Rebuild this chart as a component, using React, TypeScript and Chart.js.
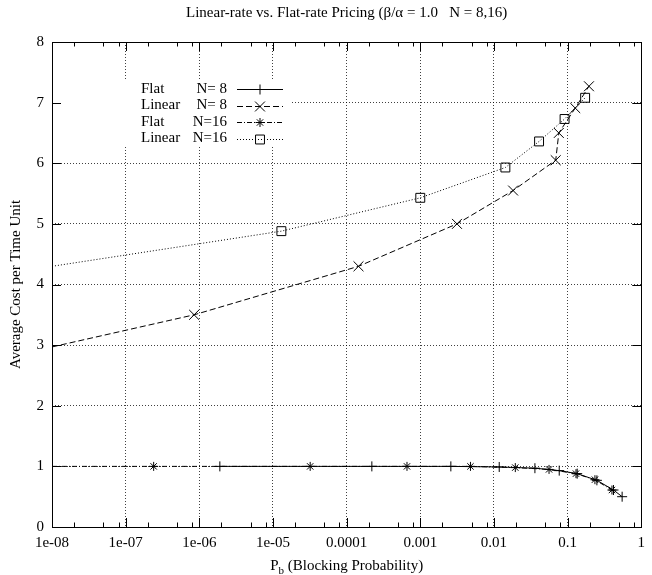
import React, { useEffect, useRef } from "react";
import { Chart, registerables } from "chart.js";
Chart.register(...registerables);

const FONT = "'Liberation Serif', 'Times New Roman', serif";

const titleText = "Linear-rate vs. Flat-rate Pricing (\u03B2/\u03B1 = 1.0   N = 8,16)";
const yTitle = "Average Cost per Time Unit";
const xTitleMain = "P";
const xTitleSub = "b";
const xTitleRest = " (Blocking Probability)";

const xTickValues = [1e-8, 1e-7, 1e-6, 1e-5, 1e-4, 1e-3, 1e-2, 1e-1, 1];
const xTickLabels = ["1e-08", "1e-07", "1e-06", "1e-05", "0.0001", "0.001", "0.01", "0.1", "1"];
const xMinorMultipliers = [2, 5, 8];
const yTickValues = [0, 1, 2, 3, 4, 5, 6, 7, 8];

// Flat N=8 (+, solid)
const flatN8Pb = [1.9e-6, 2.2e-4, 2.6e-3, 1.18e-2, 3.6e-2, 7.7e-2, 1.35e-1, 2.5e-1, 4.2e-1, 5.5e-1];
const flatN8Cost = [1.0, 1.0, 1.0, 0.99, 0.97, 0.93, 0.88, 0.77, 0.61, 0.5];

// Linear N=8 (x, dashed); first value is where the curve enters at the left edge
const linearN8Pb = [1e-8, 8.5e-7, 1.45e-4, 3.15e-3, 1.82e-2, 6.9e-2, 7.6e-2, 1.27e-1, 1.95e-1];
const linearN8Cost = [2.97, 3.5, 4.3, 5.0, 5.55, 6.05, 6.5, 6.91, 7.27];

// Flat N=16 (*, dash-dot)
const flatN16Pb = [1e-8, 2.4e-7, 3.2e-5, 6.6e-4, 4.8e-3, 1.95e-2, 5.6e-2, 1.3e-1, 2.35e-1, 4.0e-1];
const flatN16Cost = [1.0, 1.0, 1.0, 1.0, 1.0, 0.98, 0.95, 0.88, 0.78, 0.61];

// Linear N=16 (square, dotted)
const linearN16Pb = [1e-8, 1.3e-5, 1.0e-3, 1.43e-2, 4.1e-2, 9.1e-2, 1.73e-1];
const linearN16Cost = [4.3, 4.88, 5.43, 5.93, 6.36, 6.73, 7.08];

const legendWords = ["Flat", "Linear", "Flat", "Linear"];
const legendN = ["N= 8", "N= 8", "N=16", "N=16"];

const toPts = (xs: number[], ys: number[]) => xs.map((x, i) => ({ x, y: ys[i] }));

type Marker = "plus" | "cross" | "star" | "square";
const seriesStyles: { dash: number[]; marker: Marker; hideFirst: boolean }[] = [
  { dash: [], marker: "plus", hideFirst: false },
  { dash: [6, 3], marker: "cross", hideFirst: true },
  { dash: [5, 2, 1, 2], marker: "star", hideFirst: true },
  { dash: [1, 2], marker: "square", hideFirst: true },
];
const chartPointStyle: Record<Marker, string> = { plus: "cross", cross: "crossRot", star: "star", square: "rect" };
const markerRadius: Record<Marker, number> = { plus: 5, cross: 7, star: 4.5, square: 6.3 };

function drawMarker(ctx: CanvasRenderingContext2D, m: Marker, x: number, y: number) {
  const r = markerRadius[m];
  ctx.beginPath();
  if (m === "plus" || m === "star") {
    ctx.moveTo(x - r, y); ctx.lineTo(x + r, y);
    ctx.moveTo(x, y - r); ctx.lineTo(x, y + r);
  }
  if (m === "cross" || m === "star") {
    const d = r * Math.SQRT1_2;
    ctx.moveTo(x - d, y - d); ctx.lineTo(x + d, y + d);
    ctx.moveTo(x - d, y + d); ctx.lineTo(x + d, y - d);
  }
  if (m === "square") {
    const s = r * Math.SQRT1_2;
    ctx.rect(x - s, y - s, 2 * s, 2 * s);
  }
  ctx.stroke();
}

const decorPlugin = {
  id: "decor",
  afterDatasetsDraw(chart: any) {
    const ctx: CanvasRenderingContext2D = chart.ctx;
    const a = chart.chartArea;
    ctx.save();
    ctx.fillStyle = "#fff";
    ctx.fillRect(a.left + 1, 80, 291 - a.left - 1, 67);
    ctx.fillStyle = "#000";
    ctx.strokeStyle = "#000";
    ctx.lineWidth = 1;
    ctx.font = `15px ${FONT}`;
    ctx.textBaseline = "middle";
    legendWords.forEach((w, i) => {
      const y = 89 + i * 16.5;
      ctx.textAlign = "left";
      ctx.fillText(w, 141, y);
      ctx.textAlign = "right";
      ctx.fillText(legendN[i], 227, y);
      const st = seriesStyles[i];
      ctx.setLineDash(st.dash);
      ctx.beginPath();
      ctx.moveTo(237, Math.round(y) + 0.5);
      ctx.lineTo(283, Math.round(y) + 0.5);
      ctx.stroke();
      ctx.setLineDash([]);
      drawMarker(ctx, st.marker, 260, Math.round(y) + 0.5);
    });
    ctx.restore();
  },
  afterDraw(chart: any) {
    const ctx: CanvasRenderingContext2D = chart.ctx;
    const a = chart.chartArea;
    const xs = chart.scales.x;
    const ys = chart.scales.y;
    const px = (v: number) => Math.round(v) + 0.5;
    ctx.save();
    ctx.strokeStyle = "#000";
    ctx.lineWidth = 1;
    ctx.setLineDash([]);
    ctx.beginPath();
    xTickValues.forEach((v) => {
      const x = px(xs.getPixelForValue(v));
      ctx.moveTo(x, a.bottom); ctx.lineTo(x, a.bottom - 9);
      ctx.moveTo(x, a.top); ctx.lineTo(x, a.top + 9);
    });
    xTickValues.slice(0, -1).forEach((v) => {
      xMinorMultipliers.forEach((m) => {
        const x = px(xs.getPixelForValue(v * m));
        ctx.moveTo(x, a.bottom); ctx.lineTo(x, a.bottom - 4.5);
        ctx.moveTo(x, a.top); ctx.lineTo(x, a.top + 4.5);
      });
    });
    yTickValues.forEach((v) => {
      const y = px(ys.getPixelForValue(v));
      ctx.moveTo(a.left, y); ctx.lineTo(a.left + 9, y);
      ctx.moveTo(a.right, y); ctx.lineTo(a.right - 9, y);
    });
    ctx.stroke();
    ctx.strokeRect(px(a.left), px(a.top), Math.round(a.right) - Math.round(a.left), Math.round(a.bottom) - Math.round(a.top));

    ctx.fillStyle = "#000";
    ctx.font = `15px ${FONT}`;
    ctx.textAlign = "center";
    ctx.textBaseline = "alphabetic";
    const cx = (a.left + a.right) / 2;
    ctx.fillText(titleText, cx, 17);

    const subFont = `11px ${FONT}`;
    const mainFont = `15px ${FONT}`;
    ctx.font = mainFont;
    const wP = ctx.measureText(xTitleMain).width;
    const wR = ctx.measureText(xTitleRest).width;
    ctx.font = subFont;
    const wB = ctx.measureText(xTitleSub).width;
    const x0 = cx - (wP + wB + wR) / 2;
    ctx.textAlign = "left";
    ctx.font = mainFont;
    ctx.fillText(xTitleMain, x0, 570);
    ctx.font = subFont;
    ctx.fillText(xTitleSub, x0 + wP, 574);
    ctx.font = mainFont;
    ctx.fillText(xTitleRest, x0 + wP + wB, 570);

    ctx.save();
    ctx.translate(20, (a.top + a.bottom) / 2);
    ctx.rotate(-Math.PI / 2);
    ctx.textAlign = "center";
    ctx.fillText(yTitle, 0, 0);
    ctx.restore();
    ctx.restore();
  },
};

export default function App() {
  const ref = useRef<HTMLCanvasElement>(null);
  useEffect(() => {
    const canvas = ref.current!;
    const seriesData = [
      toPts(flatN8Pb, flatN8Cost),
      toPts(linearN8Pb, linearN8Cost),
      toPts(flatN16Pb, flatN16Cost),
      toPts(linearN16Pb, linearN16Cost),
    ];
    const labels = ["Flat N= 8", "Linear N= 8", "Flat N=16", "Linear N=16"];
    const gridColor = (ctx: any) => {
      const n = ctx.scale ? ctx.scale.ticks.length : 0;
      return ctx.index === 0 || ctx.index === n - 1 ? "rgba(0,0,0,0)" : "rgba(0,0,0,0.75)";
    };
    const chart = new Chart(canvas, {
      type: "line",
      data: {
        datasets: seriesData.map((d, i) => {
          const st = seriesStyles[i];
          const r = markerRadius[st.marker];
          return {
            label: labels[i],
            data: d,
            borderColor: "#000",
            borderWidth: 1,
            borderDash: st.dash,
            fill: false,
            tension: 0,
            pointStyle: chartPointStyle[st.marker] as any,
            pointRadius: (c: any) => (st.hideFirst && c.dataIndex === 0 ? 0 : r),
            pointHoverRadius: (c: any) => (st.hideFirst && c.dataIndex === 0 ? 0 : r),
            pointBorderColor: "#000",
            pointBackgroundColor: "rgba(0,0,0,0)",
            pointBorderWidth: 1,
          };
        }),
      },
      options: {
        animation: false,
        responsive: false,
        devicePixelRatio: 1,
        events: [],
        layout: { padding: { left: 0, right: 2, top: 42, bottom: 0 } },
        plugins: { legend: { display: false }, title: { display: false }, tooltip: { enabled: false } },
        scales: {
          x: {
            type: "logarithmic",
            min: 1e-8,
            max: 1,
            afterBuildTicks: (s: any) => {
              s.ticks = xTickValues.map((v) => ({ value: v, major: true }));
            },
            afterFit: (s: any) => {
              s.height = 48;
            },
            ticks: {
              autoSkip: false,
              maxRotation: 0,
              minRotation: 0,
              padding: 7,
              color: "#000",
              font: { family: FONT, size: 15 },
              callback: (_v: any, i: number) => xTickLabels[i],
            },
            grid: { color: gridColor, lineWidth: 1, drawTicks: false },
            border: { display: false, dash: [1, 2] },
          },
          y: {
            type: "linear",
            min: 0,
            max: 8,
            afterBuildTicks: (s: any) => {
              s.ticks = yTickValues.map((v) => ({ value: v }));
            },
            afterFit: (s: any) => {
              s.width = 52;
            },
            ticks: {
              padding: 8,
              color: "#000",
              font: { family: FONT, size: 15 },
              callback: (v: any) => String(v),
            },
            grid: { color: gridColor, lineWidth: 1, drawTicks: false },
            border: { display: false, dash: [1, 2] },
          },
        },
      },
      plugins: [decorPlugin],
    } as any);
    return () => chart.destroy();
  }, []);
  return (
    <div style={{ position: "absolute", left: 0, top: 0, width: 652, height: 575, background: "#fff" }}>
      <canvas ref={ref} width={652} height={575} style={{ display: "block", width: 652, height: 575 }} />
    </div>
  );
}
